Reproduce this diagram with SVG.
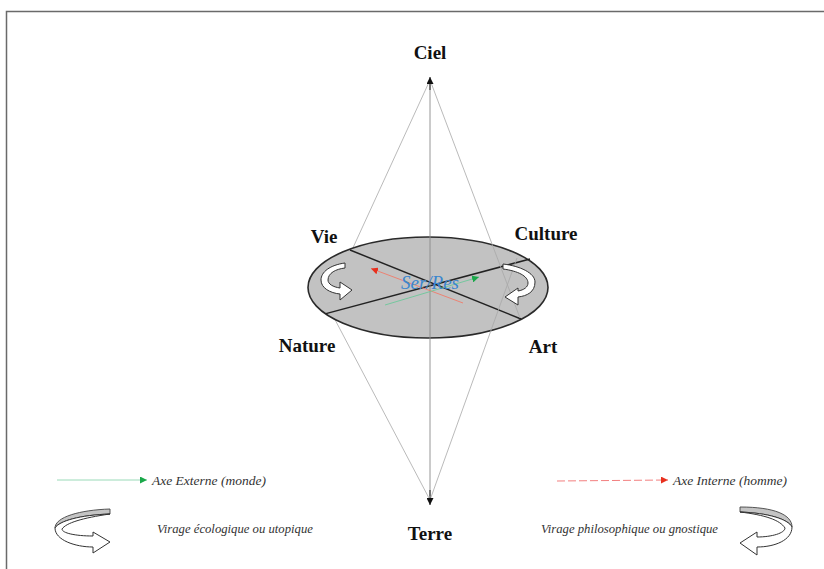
<svg xmlns="http://www.w3.org/2000/svg" width="824" height="569" viewBox="0 0 824 569">
<style>
.lbl{font-family:"Liberation Serif","Times New Roman",serif;font-weight:bold;font-size:19px;fill:#111;text-anchor:middle}
.it{font-family:"Liberation Serif","Times New Roman",serif;font-style:italic;font-size:13.5px;fill:#333}
.it.sm{font-size:12.7px}
.cone{stroke:#a8a8a8;stroke-width:0.8;fill:none}
.axis{stroke:#8a8a8a;stroke-width:0.9;fill:none}
.div{stroke:#222;stroke-width:1.5;fill:none}
.warrow{fill:#fff;stroke:#333;stroke-width:1}
</style>
<defs>
<marker id="mk" viewBox="0 0 10 10" refX="10" refY="5" markerWidth="7" markerHeight="7" markerUnits="userSpaceOnUse" orient="auto"><path d="M0,0 L10,5 L0,10 Z" fill="#111"/></marker>
<marker id="mg" viewBox="0 0 10 10" refX="10" refY="5" markerWidth="7" markerHeight="7" markerUnits="userSpaceOnUse" orient="auto"><path d="M0,0 L10,5 L0,10 Z" fill="#1aa84a"/></marker>
<marker id="mr" viewBox="0 0 10 10" refX="10" refY="5" markerWidth="7" markerHeight="7" markerUnits="userSpaceOnUse" orient="auto"><path d="M0,0 L10,5 L0,10 Z" fill="#e8301e"/></marker>
</defs>
<rect width="824" height="569" fill="#fff"/>
<path d="M6.5,569 L6.5,11.5 L824,11.5" fill="none" stroke="#6a6a6a" stroke-width="1.5"/>

<g id="connectors-back">
<line class="cone" x1="430" y1="80" x2="329" y2="300"/>
<line class="cone" x1="430" y1="500" x2="312" y2="276"/>
</g>

<g id="disc">
<ellipse cx="428" cy="287.5" rx="120" ry="50.5" fill="#c2c2c2" stroke="#2a2a2a" stroke-width="1.6"/>
<line class="div" x1="350" y1="250" x2="521" y2="319"/>
<line class="div" x1="326" y1="313.6" x2="530" y2="259"/>
</g>

<g id="connectors">
<line class="cone" x1="430" y1="80" x2="520" y2="318"/>
<line class="cone" x1="430" y1="500" x2="517" y2="258"/>
<line class="axis" x1="430" y1="84" x2="430" y2="496"/>
<line x1="430" y1="90" x2="430" y2="77" stroke="#111" stroke-width="0.9" marker-end="url(#mk)"/>
<line x1="430" y1="490" x2="430" y2="505" stroke="#111" stroke-width="0.9" marker-end="url(#mk)"/>
<line x1="463" y1="303" x2="371" y2="268.5" stroke="#f07a6a" stroke-width="0.9" marker-end="url(#mr)"/>
<line x1="385" y1="305" x2="479" y2="277" stroke="#6cc79a" stroke-width="0.9" marker-end="url(#mg)"/>
</g>

<g id="ser-res"><text x="430" y="289" font-family="'Liberation Serif','Times New Roman',serif" font-style="italic" font-size="19" fill="#3a86cf" text-anchor="middle">Ser/Res</text></g>

<g id="turn-left">
<path class="warrow" d="M345,263 C330,265 321,272 321,280 C321,288 330,293 340,294 L340,300 L352,290 L340,282 L340,288 C333,287 328,284 328,280 C328,273 336,269 345,268 Z"/>
</g>
<g id="turn-right">
<path class="warrow" d="M503,264 C520,266 535,273 535,282 C535,292 527,296 518,297 L518,305 L505,297 L518,288 L518,291 C524,290 528,287 528,283 C528,276 518,271 503,269 Z"/>
</g>

<g id="ciel"><text class="lbl" x="430" y="59">Ciel</text></g>
<g id="terre"><text class="lbl" x="430" y="540">Terre</text></g>
<g id="vie"><text class="lbl" x="324" y="243">Vie</text></g>
<g id="culture"><text class="lbl" x="546" y="240">Culture</text></g>
<g id="nature"><text class="lbl" x="307" y="352">Nature</text></g>
<g id="art"><text class="lbl" x="543" y="353">Art</text></g>

<g id="legend-externe">
<line x1="57" y1="480" x2="147" y2="480" stroke="#8fd6b0" stroke-width="0.9" marker-end="url(#mg)"/>
<text class="it" x="152" y="485">Axe Externe (monde)</text>
</g>
<g id="legend-interne">
<line x1="557" y1="481" x2="668" y2="480" stroke="#f07070" stroke-width="0.9" stroke-dasharray="8,3" marker-end="url(#mr)"/>
<text class="it" x="673" y="485">Axe Interne (homme)</text>
</g>
<g id="legend-ecologique">
<path d="M110,509 C80,510 55,517 55,528 C59,521 80,515 110,514 Z" fill="#c4c4c4" stroke="#444" stroke-width="0.9"/>
<path class="warrow" d="M110,514 C80,515 59,521 55,528 C55,540 75,547 93,547 L93,553 L110,542 L93,532 L93,536 C75,536 62,533 62,529 C66,523 82,518 110,514 Z"/>
<text class="it sm" x="157" y="533">Virage écologique ou utopique</text>
</g>
<g id="legend-philosophique">
<path d="M740,507 C775,507 792,515 792,527 C788,519 768,513 740,512 Z" fill="#c4c4c4" stroke="#444" stroke-width="0.9"/>
<path class="warrow" d="M740,512 C768,513 788,519 792,527 C792,540 775,547 757,547 L757,555 L740,543 L757,532 L757,537 C772,537 785,533 785,528 C780,520 765,515 740,512 Z"/>
<text class="it sm" x="718" y="533" text-anchor="end">Virage philosophique ou gnostique</text>
</g>
</svg>
